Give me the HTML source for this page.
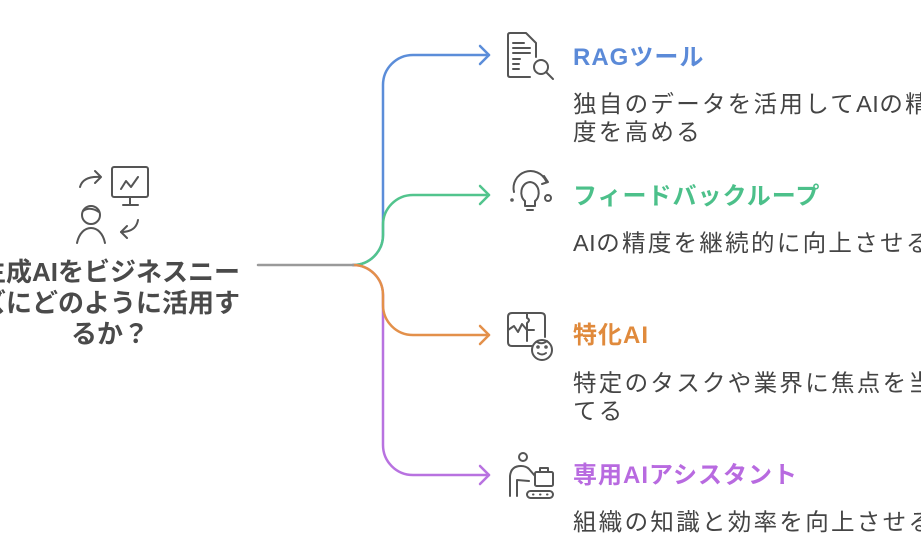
<!DOCTYPE html>
<html>
<head>
<meta charset="utf-8">
<style>
  html, body { margin:0; padding:0; background:#ffffff; }
  body { width:921px; height:535px; overflow:hidden; position:relative; }
  svg { position:absolute; left:0; top:0; }
  .t { font-family:"Liberation Sans","Noto Sans CJK JP",sans-serif; }
  .title { font-size:24px; font-weight:700; letter-spacing:1px; }
  .desc { font-size:23.5px; fill:#444444; letter-spacing:2.3px; }
  .ai { letter-spacing:0.5px; }
  .main { font-size:26px; font-weight:700; fill:#4a4a4a; }
  .ic { fill:none; stroke:#555555; stroke-width:2; stroke-linecap:round; stroke-linejoin:round; }
  .cn { fill:none; stroke-width:2.5; stroke-linecap:round; stroke-linejoin:round; }
</style>
</head>
<body>
<svg width="921" height="535" viewBox="0 0 921 535" xmlns="http://www.w3.org/2000/svg">
  <!-- connectors -->
  <path class="cn" stroke="#5b8dd9" d="M353,265 A30,30 0 0 0 383,235 V85 A30,30 0 0 1 413,55 H489"/>
  <path class="cn" stroke="#5b8dd9" d="M480,46 L489,55 L480,64"/>
  <path class="cn" stroke="#52c48d" d="M353,265 A30,30 0 0 0 383,235 V225 A30,30 0 0 1 413,195 H489"/>
  <path class="cn" stroke="#52c48d" d="M480,186 L489,195 L480,204"/>
  <path class="cn" stroke="#b872e0" d="M353,265 A30,30 0 0 1 383,295 V445 A30,30 0 0 0 413,475 H489"/>
  <path class="cn" stroke="#b872e0" d="M480,466 L489,475 L480,484"/>
  <path class="cn" stroke="#e3904a" d="M353,265 A30,30 0 0 1 383,295 V305 A30,30 0 0 0 413,335 H489"/>
  <path class="cn" stroke="#e3904a" d="M480,326 L489,335 L480,344"/>
  <path class="cn" stroke="#9a9a9a" d="M258,265 H353"/>

  <!-- left icon -->
  <g class="ic">
    <path d="M80,187 Q83,176 100,177"/>
    <path d="M95,171 L101,177 L95,183"/>
    <rect x="112" y="167" width="36" height="30" rx="2"/>
    <path d="M130,197 V205 M123,205 H138"/>
    <path d="M121,189 L126,181 L131,187 L138,177"/>
    <circle cx="91" cy="215" r="9"/>
    <path d="M83,211 Q90,206 99,212"/>
    <path d="M77,243 C79,233 85,228 91,228 C97,228 103,233 105,243"/>
    <path d="M138,220 Q136,232 121,232"/>
    <path d="M127,226 L121,232 L127,238"/>
  </g>

  <!-- left title -->
  <text class="t main" x="110" y="281" text-anchor="middle">生成AIをビジネスニー</text>
  <text class="t main" x="110" y="312" text-anchor="middle">ズにどのように活用す</text>
  <text class="t main" x="110" y="343" text-anchor="middle">るか？</text>

  <!-- RAG icon -->
  <g class="ic">
    <path d="M536,57 V43 L526,33 H510 Q508,33 508,35 V75 Q508,77 510,77 H530"/>
    <path d="M513,43 H524 M513,48 H530 M513,53 H530 M513,59 H520 M513,64 H519 M513,69 H519"/>
    <circle cx="541" cy="67" r="7"/>
    <path d="M546,72 L553,79"/>
  </g>
  <!-- bulb icon -->
  <g class="ic">
    <path d="M514,192 A17,17 0 0 1 546,181"/>
    <path d="M544,176 L548,182 L542,184"/>
    <circle cx="512" cy="200" r="0.8"/>
    <circle cx="548" cy="198" r="3"/>
    <path d="M525,201 C519,197 520,183 530,182 C540,183 541,197 535,201 V206 H525 Z"/>
    <path d="M527,210 H533"/>
  </g>
  <!-- specialized AI icon -->
  <g class="ic">
    <path d="M532,346 H512 Q508,346 508,342 V317 Q508,313 512,313 H541 Q545,313 545,317 V337"/>
    <path d="M508,330 L514,326 L518,332 L522,324 L527,330 H534"/>
    <path d="M527,313 V318 Q531,320 527,323 V341"/>
    <circle cx="542" cy="350" r="10" fill="#ffffff"/>
    <circle cx="538" cy="347" r="0.8"/>
    <circle cx="546" cy="347" r="0.8"/>
    <path d="M538,353 Q542,356 546,353"/>
    <path d="M537,342 Q542,345 547,341"/>
  </g>
  <!-- assistant icon -->
  <g class="ic">
    <circle cx="523" cy="457" r="4"/>
    <path d="M510,496 V476 Q511,466 521,466 Q526,466 529,469 L535,476"/>
    <path d="M517,496 V480 L529,481"/>
    <rect x="535" y="472" width="18" height="14" rx="1.5"/>
    <path d="M540,472 V468 H548 V472"/>
    <rect x="527" y="491" width="26" height="7" rx="3.5"/>
    <path d="M533,494.5 H533.5 M540,494.5 H540.5 M547,494.5 H547.5"/>
  </g>

  <!-- titles -->
  <text class="t title" x="573" y="65" fill="#5b8ad8">RAGツール</text>
  <text class="t title" x="573" y="204" fill="#4cc08a">フィードバックループ</text>
  <text class="t title" x="573" y="343" fill="#e08a3c">特化AI</text>
  <text class="t title" x="573" y="483" fill="#b86ae0">専用AIアシスタント</text>

  <!-- descriptions -->
  <text class="t desc" x="573" y="112">独自のデータを活用して<tspan class="ai">AI</tspan>の精</text>
  <text class="t desc" x="573" y="140">度を高める</text>
  <text class="t desc" x="573" y="251"><tspan class="ai">AI</tspan>の精度を継続的に向上させる</text>
  <text class="t desc" x="573" y="391">特定のタスクや業界に焦点を当</text>
  <text class="t desc" x="573" y="419">てる</text>
  <text class="t desc" x="573" y="530">組織の知識と効率を向上させる</text>
</svg>
</body>
</html>
